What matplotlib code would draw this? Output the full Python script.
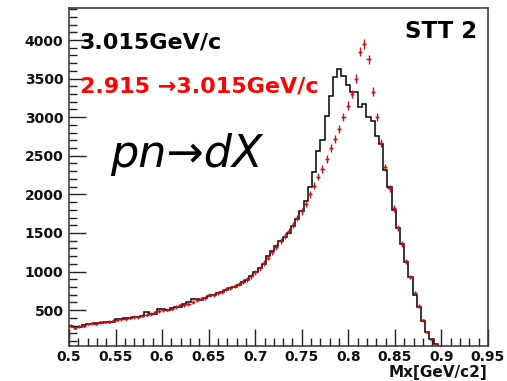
import numpy as np
import matplotlib
matplotlib.use("Agg")
import matplotlib.pyplot as plt
from matplotlib.ticker import MultipleLocator

# Mx histogram, 100 bins over 0.5 - 0.95 GeV/c2
x_lo, x_hi, n_bins = 0.5, 0.95, 100

# black histogram: 3.015 GeV/c
mc_counts = [
    300, 280, 285, 305, 315, 320, 330, 335, 340, 345,
    350, 385, 390, 395, 400, 405, 410, 420, 470, 455,
    450, 520, 510, 495, 530, 545, 540, 575, 600, 640,
    650, 630, 660, 680, 700, 720, 740, 760, 790, 800,
    830, 860, 890, 940, 990, 1050, 1100, 1200, 1260, 1330,
    1390, 1450, 1500, 1590, 1680, 1790, 1920, 2100, 2290, 2560,
    2700, 3010, 3280, 3520, 3620, 3540, 3420, 3330, 3330, 3130,
    3170, 3000, 2950, 2750, 2650, 2320, 2100, 1800, 1570, 1360,
    1120, 930, 700, 540, 360, 210, 120, 55, 15, 0,
    0, 0, 0, 0, 0, 0, 0, 0, 0, 0,
]

# red points: 2.915 -> 3.015 GeV/c
data_counts = [
    300, 270, 290, 300, 320, 330, 325, 340, 345, 350,
    360, 375, 380, 390, 400, 410, 405, 430, 440, 450,
    470, 490, 500, 505, 520, 540, 560, 570, 580, 600,
    630, 650, 660, 690, 700, 720, 740, 770, 790, 810,
    840, 870, 900, 940, 990, 1040, 1110, 1180, 1250, 1320,
    1400, 1460, 1530, 1600, 1690, 1780, 1880, 2000, 2110, 2230,
    2330, 2460, 2600, 2720, 2850, 3000, 3150, 3300, 3500, 3850,
    3950, 3750, 3330, 3000, 2660, 2350, 2080, 1820, 1560, 1360,
    1130, 930, 720, 550, 370, 220, 120, 60, 20, 0,
    0, 0, 0, 0, 0, 0, 0, 0, 0, 0,
]

edges = np.linspace(x_lo, x_hi, n_bins + 1)
centers = 0.5 * (edges[:-1] + edges[1:])
half_w = 0.5 * (edges[1] - edges[0])
mc = np.array(mc_counts, dtype=float)
dat = np.array(data_counts, dtype=float)

fig = plt.figure(figsize=(5.07, 3.81), dpi=100)
ax = fig.add_axes([0.1361, 0.0919, 0.8264, 0.8871])

ax.stairs(mc, edges, baseline=None, color='black', linewidth=1.1, zorder=2)
keep = dat > 0
ax.errorbar(centers[keep], dat[keep], xerr=half_w, yerr=np.sqrt(dat[keep]),
            fmt='o', ms=1.8, mfc='#c8101c', mec='#c8101c', mew=0,
            ecolor='#c8101c', elinewidth=1.0, zorder=3)

ax.set_xlim(x_lo, x_hi)
ax.set_ylim(35, 4415)

ax.xaxis.set_minor_locator(MultipleLocator(0.01))
ax.yaxis.set_major_locator(MultipleLocator(500))
ax.yaxis.set_minor_locator(MultipleLocator(100))
ax.set_xticks(np.arange(0.5, 0.951, 0.05))
ax.set_xticklabels(['0.5', '0.55', '0.6', '0.65', '0.7', '0.75', '0.8',
                    '0.85', '0.9', '0.95'])

ax.tick_params(which='both', direction='in', top=False, right=False,
               color='#222222', width=1.0)
ax.tick_params(which='major', length=12)
ax.tick_params(which='minor', length=5.5)
ax.tick_params(axis='x', pad=3)
ax.tick_params(axis='y', pad=4)
for lab in ax.get_xticklabels() + ax.get_yticklabels():
    lab.set_fontfamily('DejaVu Sans')
    lab.set_fontweight('bold')
    lab.set_fontsize(10)
    lab.set_color('#111111')

for sp in ax.spines.values():
    sp.set_color('#333333')
    sp.set_linewidth(1.1)

fig.text(487 / 507, 1 - 377 / 381, 'Mx[GeV/c2]', ha='right', va='baseline',
         fontsize=11, fontweight='bold', family='DejaVu Sans', color='#111111')

fig.text(80 / 507, 1 - 48 / 381, '3.015GeV/c', ha='left', va='baseline',
         fontsize=16, fontweight='bold', family='DejaVu Sans', color='black')
fig.text(80 / 507, 1 - 93 / 381, '2.915 \u21923.015GeV/c', ha='left',
         va='baseline', fontsize=16, fontweight='bold', family='DejaVu Sans',
         color='#ff0000')
fig.text(110 / 507, 1 - 167 / 381, 'pn\u2192dX', ha='left', va='baseline',
         fontsize=32, style='italic', family='DejaVu Sans', color='black')
fig.text(477 / 507, 1 - 38 / 381, 'STT 2', ha='right', va='baseline',
         fontsize=16.5, fontweight='bold', family='DejaVu Sans', color='black')

fig.savefig('out.png', dpi=100)
